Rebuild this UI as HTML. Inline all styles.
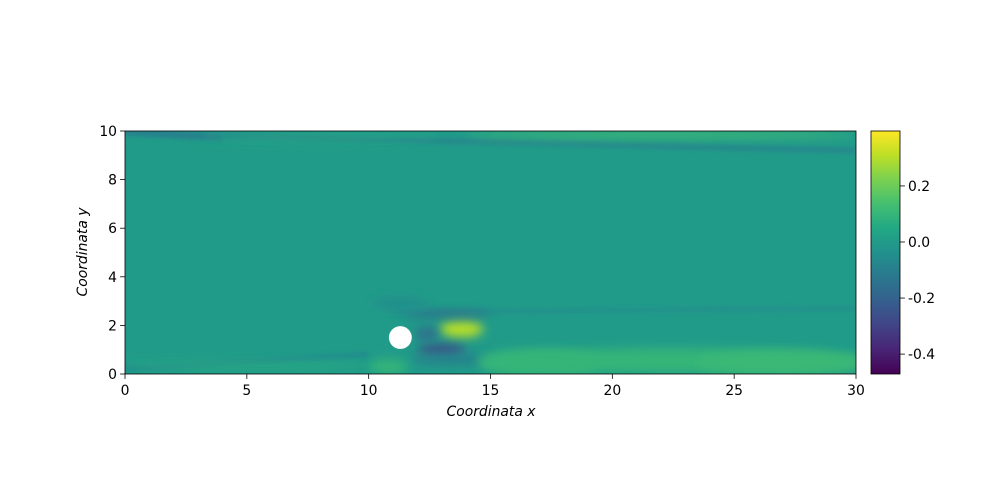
<!DOCTYPE html>
<html><head><meta charset="utf-8"><style>
body{margin:0;background:#fff;}
svg{display:block;font-family:"DejaVu Sans","Liberation Sans",sans-serif;}
</style></head><body>
<svg id="chart" width="1000" height="500" xmlns="http://www.w3.org/2000/svg">
<defs>
<clipPath id="plotclip"><rect x="125" y="131" width="731" height="243"/></clipPath>
<filter id="blur6" filterUnits="userSpaceOnUse" x="0" y="0" width="1000" height="500"><feGaussianBlur stdDeviation="5"/></filter>
<filter id="blur2" filterUnits="userSpaceOnUse" x="0" y="0" width="1000" height="500"><feGaussianBlur stdDeviation="2.5"/></filter>
<linearGradient id="viridis" x1="0" y1="1" x2="0" y2="0">
<stop offset="0" stop-color="#440154"/><stop offset="0.1" stop-color="#482475"/><stop offset="0.2" stop-color="#414487"/>
<stop offset="0.3" stop-color="#355f8d"/><stop offset="0.4" stop-color="#2a788e"/><stop offset="0.5" stop-color="#21918c"/>
<stop offset="0.6" stop-color="#22a884"/><stop offset="0.7" stop-color="#44bf70"/><stop offset="0.8" stop-color="#7ad151"/>
<stop offset="0.9" stop-color="#bddf26"/><stop offset="1" stop-color="#fde725"/>
</linearGradient>
</defs>
<g id="plot" clip-path="url(#plotclip)"></g>
<g id="axes"></g>
</svg>
<script>
// field features: centers/extent in data coords, value in colorbar units
const blobX  = [13.8, 13.0, 12.4, 13.2, 13.5, 10.8, 22.5, 17, 27, 5, 22, 8, 11.3];
const blobY  = [1.85, 1.0, 1.65, 2.45, 0.6, 0.3, 0.55, 0.45, 0.45, 0.35, 9.85, 9.75, 2.9];
const blobRX = [0.9, 1.0, 0.5, 1.8, 1.8, 0.8, 8, 2.5, 3.5, 5, 8, 5, 1.2];
const blobRY = [0.35, 0.22, 0.3, 0.12, 0.2, 0.3, 0.5, 0.55, 0.5, 0.12, 0.12, 0.1, 0.3];
const blobV  = [0.3, -0.28, -0.15, -0.18, -0.1, 0.1, 0.1, 0.1, 0.11, 0.07, 0.14, 0.06, -0.04];
const bandX0 = [0, 0, 11, 0];
const bandY0 = [9.9, 0.2, 2.55, 10.0];
const bandX1 = [30, 10, 30, 4];
const bandY1 = [9.2, 0.8, 2.7, 9.7];
const bandV  = [-0.08, -0.06, -0.04, -0.1];
const cylX = 11.3, cylY = 1.5, cylR = 0.47;
const xTicks = [0, 5, 10, 15, 20, 25, 30];
const yTicks = [0, 2, 4, 6, 8, 10];
const cbTicks = [0.2, 0.0, -0.2, -0.4];
const cbLabels = ["0.2", "0.0", "-0.2", "-0.4"];
const vmin = -0.471, vmax = 0.396;

const L=125,R=856,T=131,B=374;
const sx = v => L + (R-L)*v/30;
const sy = v => B - (B-T)*v/10;
const sc = v => 374 - (374-131)*(v-vmin)/(vmax-vmin);
const vir = ["#440154","#482475","#414487","#355f8d","#2a788e","#21918c","#22a884","#44bf70","#7ad151","#bddf26","#fde725"];
function color(v){let t=(v-vmin)/(vmax-vmin)*10;t=Math.max(0,Math.min(10,t));const i=Math.min(9,Math.floor(t)),f=t-i;
 const a=vir[i],b=vir[i+1];const p=(h,k)=>parseInt(h.substr(k,2),16);
 const c=[1,3,5].map(k=>Math.round(p(a,k)*(1-f)+p(b,k)*f));return `rgb(${c.join(',')})`;}
const NS="http://www.w3.org/2000/svg";
function mk(tag,attrs,parent){const e=document.createElementNS(NS,tag);for(const k in attrs)e.setAttribute(k,attrs[k]);parent.appendChild(e);return e;}
const plot=document.getElementById('plot'), axes=document.getElementById('axes');
const bg=mk('rect',{x:L,y:T,width:R-L,height:B-T,fill:color(0.0)},plot);


for(let i=0;i<bandV.length;i++){
 const ln=mk('line',{x1:sx(bandX0[i]),y1:sy(bandY0[i]),x2:sx(bandX1[i]),y2:sy(bandY1[i]),stroke:color(bandV[i]),'stroke-width':5,filter:'url(#blur2)'},plot);
 
 
}
for(let i=0;i<blobV.length;i++){
 const e=mk('ellipse',{cx:sx(blobX[i]),cy:sy(blobY[i]),rx:(R-L)*blobRX[i]/30,ry:(B-T)*blobRY[i]/10,fill:color(blobV[i]),filter:'url(#blur6)'},plot);
 
 
}
const cyl=mk('circle',{cx:sx(cylX),cy:sy(cylY),r:(R-L)*cylR/30,fill:'#fff'},plot);


const frame=mk('rect',{x:L,y:T,width:R-L,height:B-T,fill:'none',stroke:'#000','stroke-width':0.8},axes);


xTicks.forEach(v=>{
 mk('line',{x1:sx(v),x2:sx(v),y1:B,y2:B+4.9,stroke:'#000','stroke-width':0.8},axes);
 const t=mk('text',{x:sx(v),y:B+21,'font-size':13.9,'text-anchor':'middle'},axes);t.textContent=v;
 
 
});
yTicks.forEach(v=>{
 mk('line',{x1:L-4.9,x2:L,y1:sy(v),y2:sy(v),stroke:'#000','stroke-width':0.8},axes);
 const t=mk('text',{x:L-8,y:sy(v)+5,'font-size':13.9,'text-anchor':'end'},axes);t.textContent=v;
 
 
});
const xl=mk('text',{x:491,y:416,'font-size':13.9,'font-style':'italic','text-anchor':'middle'},axes);xl.textContent='Coordinata x';


const yl=mk('text',{x:0,y:0,'font-size':13.9,'font-style':'italic','text-anchor':'middle',transform:'translate(87,252) rotate(-90)'},axes);yl.textContent='Coordinata y';


const cb=mk('rect',{x:871,y:131,width:29,height:243,fill:'url(#viridis)',stroke:'#000','stroke-width':0.8},axes);


cbTicks.forEach((v,i)=>{
 mk('line',{x1:900,x2:904.9,y1:sc(v),y2:sc(v),stroke:'#000','stroke-width':0.8},axes);
 const t=mk('text',{x:908,y:sc(v)+5,'font-size':13.9},axes);t.textContent=cbLabels[i];
 
 
});
</script>
</body></html>
